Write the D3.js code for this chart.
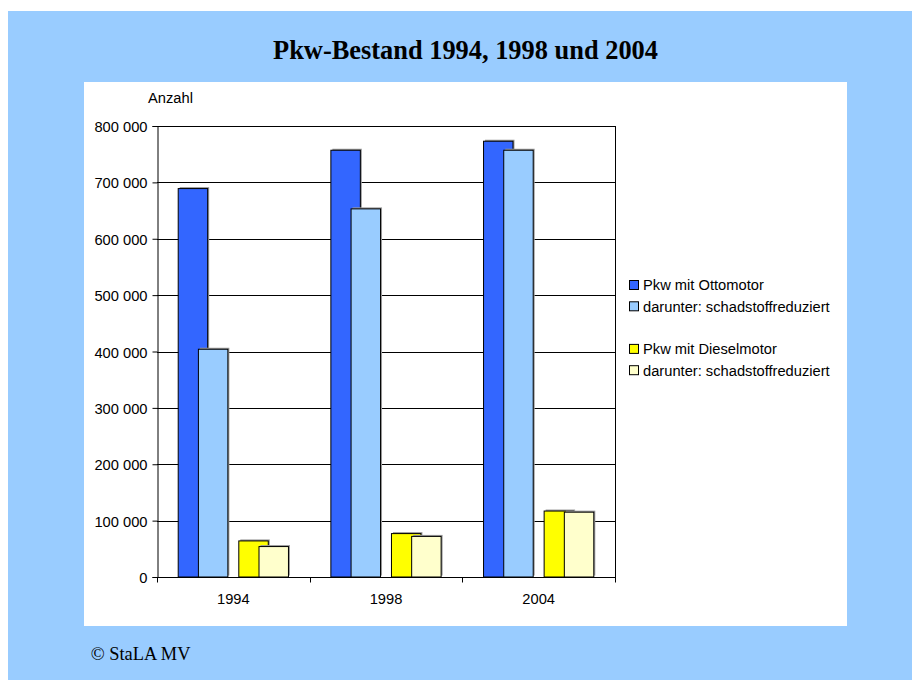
<!DOCTYPE html>
<html>
<head>
<meta charset="utf-8">
<script src="https://cdn.jsdelivr.net/npm/d3@7"></script>
<style>
  html, body { margin: 0; padding: 0; background: #ffffff; }
  svg { display: block; }
</style>
</head>
<body>
<div class="chart"></div>
<script>
// Chart data.
const years = ["1994", "1998", "2004"];
const seriesNames = ["Pkw mit Ottomotor", "darunter: schadstoffreduziert", "", "Pkw mit Dieselmotor", "darunter: schadstoffreduziert"];
const seriesColors = ["#3366FF", "#99CCFF", null, "#FFFF00", "#FFFFCC"];
const ottoValues = [689000, 757000, 773000];
const ottoReduced = [404000, 653000, 757000];
const dieselValues = [64000, 77000, 117000];
const dieselReduced = [54000, 72000, 115000];
const yTicks = [0, 100000, 200000, 300000, 400000, 500000, 600000, 700000, 800000];

// The empty third series keeps the gap between the Otto and Diesel pairs.
const seriesValues = [ottoValues, ottoReduced, null, dieselValues, dieselReduced];

const width = 912, height = 680;
const plot = { left: 157, right: 615, top: 126, bottom: 577 };
const sansFont = "'Liberation Sans', Arial, sans-serif";
const serifFont = "'Liberation Serif', 'Times New Roman', serif";
const fontSize = 14.7;

const svg = d3.select(".chart")
  .append("svg")
  .attr("width", width)
  .attr("height", height)
  .attr("viewBox", [0, 0, width, height]);

// Blue page background and white chart panel.
svg.append("rect")
  .attr("x", 8).attr("y", 11)
  .attr("width", width - 8).attr("height", height - 11)
  .attr("fill", "#99CCFF");
svg.append("rect")
  .attr("x", 84).attr("y", 82)
  .attr("width", 763).attr("height", 544)
  .attr("fill", "#ffffff");

// Title and source.
svg.append("text")
  .attr("x", 465.5).attr("y", 59.3)
  .attr("text-anchor", "middle")
  .attr("font-family", serifFont)
  .attr("font-weight", "bold")
  .attr("font-size", "26.4px")
  .attr("fill", "#000000")
  .text("Pkw-Bestand 1994, 1998 und 2004");
svg.append("text")
  .attr("x", 90.7).attr("y", 660)
  .attr("font-family", serifFont)
  .attr("font-size", "18.4px")
  .attr("fill", "#000000")
  .text("© StaLA MV");

// Scales.
const x0 = d3.scaleBand()
  .domain(years)
  .range([plot.left, plot.right])
  .padding(0);
const bw = x0.bandwidth();
const barW = bw * 0.193;
const step = bw * 0.1323;
const offset = (bw - 4 * step - barW) / 2;
const x1 = d3.scalePoint()
  .domain(d3.range(seriesNames.length))
  .range([offset, offset + 4 * step]);
const y = d3.scaleLinear()
  .domain([0, 800000])
  .range([plot.bottom, plot.top]);

// Gridlines.
svg.append("g")
  .selectAll("line")
  .data(yTicks.filter(d => d > 0))
  .join("line")
  .attr("x1", plot.left).attr("x2", plot.right)
  .attr("y1", d => Math.round(y(d)) + 0.5)
  .attr("y2", d => Math.round(y(d)) + 0.5)
  .attr("stroke", "#000000")
  .attr("stroke-width", 1);

// Right border of the plot area.
svg.append("line")
  .attr("x1", plot.right + 0.5).attr("x2", plot.right + 0.5)
  .attr("y1", plot.top).attr("y2", plot.bottom)
  .attr("stroke", "#000000");

// Bars, drawn series by series so later series overlap earlier ones.
const bars = svg.append("g");
seriesValues.forEach((values, s) => {
  if (!values) return;
  years.forEach((yr, i) => {
    const bx = x0(yr) + x1(s);
    const by = y(values[i]);
    // Soft shadow behind the bar.
    bars.append("rect")
      .attr("x", bx + 1.5).attr("y", by - 1.5)
      .attr("width", barW).attr("height", plot.bottom - by)
      .attr("fill", "#9a9a9a");
    bars.append("rect")
      .attr("x", bx).attr("y", by)
      .attr("width", barW).attr("height", plot.bottom - by)
      .attr("fill", seriesColors[s])
      .attr("stroke", "#000000")
      .attr("stroke-width", 1);
  });
});

// Y axis.
const yAxis = svg.append("g")
  .attr("transform", `translate(${plot.left + 0.5},0)`)
  .call(d3.axisLeft(y)
    .tickValues(yTicks)
    .tickSize(5)
    .tickPadding(5)
    .tickFormat(d => d3.format(",")(d).replace(/,/g, " ")));
yAxis.select(".domain").attr("stroke", "#000000");
yAxis.selectAll(".tick line").attr("stroke", "#000000");
yAxis.selectAll(".tick text")
  .attr("font-family", sansFont)
  .attr("font-size", fontSize + "px")
  .attr("fill", "#000000")
  .attr("dy", "0.38em");
yAxis.attr("font-family", null).attr("font-size", null);

// X axis: labels at group centres, ticks at group boundaries.
const xAxis = svg.append("g")
  .attr("transform", `translate(0,${plot.bottom + 0.5})`);
xAxis.append("line")
  .attr("x1", plot.left).attr("x2", plot.right + 1)
  .attr("stroke", "#000000");
const boundaries = years.map(d => x0(d)).concat([plot.right]);
xAxis.selectAll(".xtick")
  .data(boundaries)
  .join("line")
  .attr("class", "xtick")
  .attr("x1", d => Math.round(d) + 0.5).attr("x2", d => Math.round(d) + 0.5)
  .attr("y1", 0).attr("y2", 5)
  .attr("stroke", "#000000");
xAxis.selectAll(".xlabel")
  .data(years)
  .join("text")
  .attr("class", "xlabel")
  .attr("x", d => x0(d) + bw / 2)
  .attr("y", 26)
  .attr("text-anchor", "middle")
  .attr("font-family", sansFont)
  .attr("font-size", fontSize + "px")
  .attr("fill", "#000000")
  .text(d => d);

// Axis title.
svg.append("text")
  .attr("x", 148).attr("y", 102.5)
  .attr("font-family", sansFont)
  .attr("font-size", fontSize + "px")
  .attr("fill", "#000000")
  .text("Anzahl");

// Legend (the empty series leaves a blank row).
const legend = svg.append("g").attr("transform", "translate(629,285)");
seriesNames.forEach((name, i) => {
  if (!seriesColors[i]) return;
  const row = legend.append("g").attr("transform", `translate(0,${i * 21.3})`);
  row.append("rect")
    .attr("x", 0.5).attr("y", -4.5)
    .attr("width", 9).attr("height", 9)
    .attr("fill", seriesColors[i])
    .attr("stroke", "#000000");
  row.append("text")
    .attr("x", 14).attr("y", 5.3)
    .attr("font-family", sansFont)
    .attr("font-size", fontSize + "px")
    .attr("fill", "#000000")
    .text(name);
});
</script>
</body>
</html>
